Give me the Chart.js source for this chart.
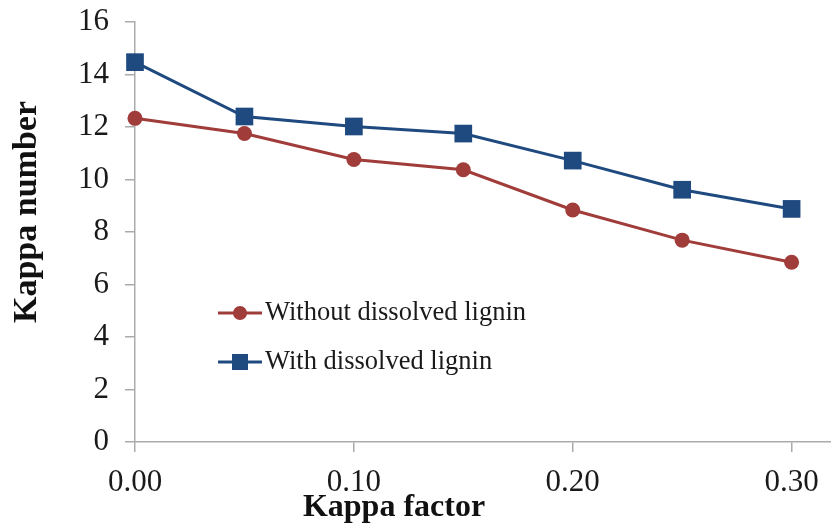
<!DOCTYPE html>
<html>
<head>
<meta charset="utf-8">
<script src="https://cdn.jsdelivr.net/npm/chart.js@4"></script>
<style>
  html, body { margin: 0; padding: 0; background: #fff; }
  #wrap { width: 831px; height: 530px; }
</style>
</head>
<body>
<div id="wrap"><canvas id="kappaChart" width="831" height="530"></canvas></div>
<script>
const kappaFactor = [0.00, 0.05, 0.10, 0.15, 0.20, 0.25, 0.30];
const withoutLignin = [12.33, 11.75, 10.76, 10.37, 8.84, 7.69, 6.85];
const withLignin = [14.47, 12.40, 12.02, 11.75, 10.72, 9.61, 8.88];
const xTickValues = [0.00, 0.10, 0.20, 0.30];
const yTickValues = [0, 2, 4, 6, 8, 10, 12, 14, 16];
const xTitle = 'Kappa factor';
const yTitle = 'Kappa number';

const RED = '#A03C3A';
const BLUE = '#1F4A80';
const AXIS = '#ABABAB';
const TEXT = '#1a1a1a';
const FONT = "'Liberation Serif', 'DejaVu Serif', serif";

const toPoints = ys => kappaFactor.map((x, i) => ({ x: x, y: ys[i] }));

// legend and axis titles, placed where the original has them
const extras = {
  id: 'extras',
  afterDraw(chart) {
    const ctx = chart.ctx;
    const left = 218, rows = [313, 362];
    ctx.save();
    chart.data.datasets.forEach((ds, i) => {
      const y = rows[i];
      ctx.strokeStyle = ds.borderColor;
      ctx.lineWidth = 3;
      ctx.beginPath();
      ctx.moveTo(left, y);
      ctx.lineTo(left + 44, y);
      ctx.stroke();
      ctx.fillStyle = ds.backgroundColor;
      if (ds.pointStyle === 'rect') {
        ctx.fillRect(left + 22 - 8, y - 8, 16, 16);
      } else {
        ctx.beginPath();
        ctx.arc(left + 22, y, 7, 0, Math.PI * 2);
        ctx.fill();
      }
      ctx.fillStyle = TEXT;
      ctx.font = '26.5px ' + FONT;
      ctx.textBaseline = 'middle';
      ctx.textAlign = 'left';
      ctx.fillText(ds.label, left + 47, y);
    });

    ctx.fillStyle = '#111';
    ctx.textAlign = 'center';
    ctx.textBaseline = 'middle';
    ctx.font = 'bold 32px ' + FONT;
    ctx.fillText(xTitle, 394, 508);

    ctx.translate(27, 212);
    ctx.rotate(-Math.PI / 2);
    ctx.font = 'bold 34px ' + FONT;
    ctx.fillText(yTitle, 0, 0);
    ctx.restore();
  }
};

new Chart(document.getElementById('kappaChart'), {
  type: 'line',
  data: {
    datasets: [
      {
        label: 'Without dissolved lignin',
        data: toPoints(withoutLignin),
        borderColor: RED,
        backgroundColor: RED,
        borderWidth: 3,
        pointStyle: 'circle',
        pointRadius: 7.5,
        pointBorderWidth: 0,
        tension: 0,
        clip: false
      },
      {
        label: 'With dissolved lignin',
        data: toPoints(withLignin),
        borderColor: BLUE,
        backgroundColor: BLUE,
        borderWidth: 3,
        pointStyle: 'rect',
        pointRadius: 12.5,
        pointBorderWidth: 0,
        tension: 0,
        clip: false
      }
    ]
  },
  options: {
    responsive: false,
    animation: false,
    layout: { padding: 0, autoPadding: false },
    plugins: {
      legend: { display: false },
      tooltip: { enabled: false }
    },
    scales: {
      x: {
        type: 'linear',
        min: 0,
        max: 0.318,
        afterBuildTicks: s => { s.ticks = xTickValues.map(v => ({ value: v })); },
        afterFit: s => { s.height = 88; s.paddingLeft = 0; s.paddingRight = 0; },
        ticks: {
          callback: v => v.toFixed(2),
          font: { family: FONT, size: 31 },
          color: TEXT,
          padding: 12,
          maxRotation: 0
        },
        grid: { drawOnChartArea: false, drawTicks: true, tickLength: 10, color: AXIS, lineWidth: 1.5 },
        border: { color: AXIS, width: 1.5 }
      },
      y: {
        type: 'linear',
        min: 0,
        max: 16,
        afterBuildTicks: s => { s.ticks = yTickValues.map(v => ({ value: v })); },
        afterFit: s => { s.width = 135; s.paddingTop = 22; s.paddingBottom = 0; },
        ticks: {
          font: { family: FONT, size: 31 },
          color: TEXT,
          padding: 16
        },
        grid: { drawOnChartArea: false, drawTicks: true, tickLength: 10, color: AXIS, lineWidth: 1.5 },
        border: { color: AXIS, width: 1.5 }
      }
    }
  },
  plugins: [extras]
});
</script>
</body>
</html>
